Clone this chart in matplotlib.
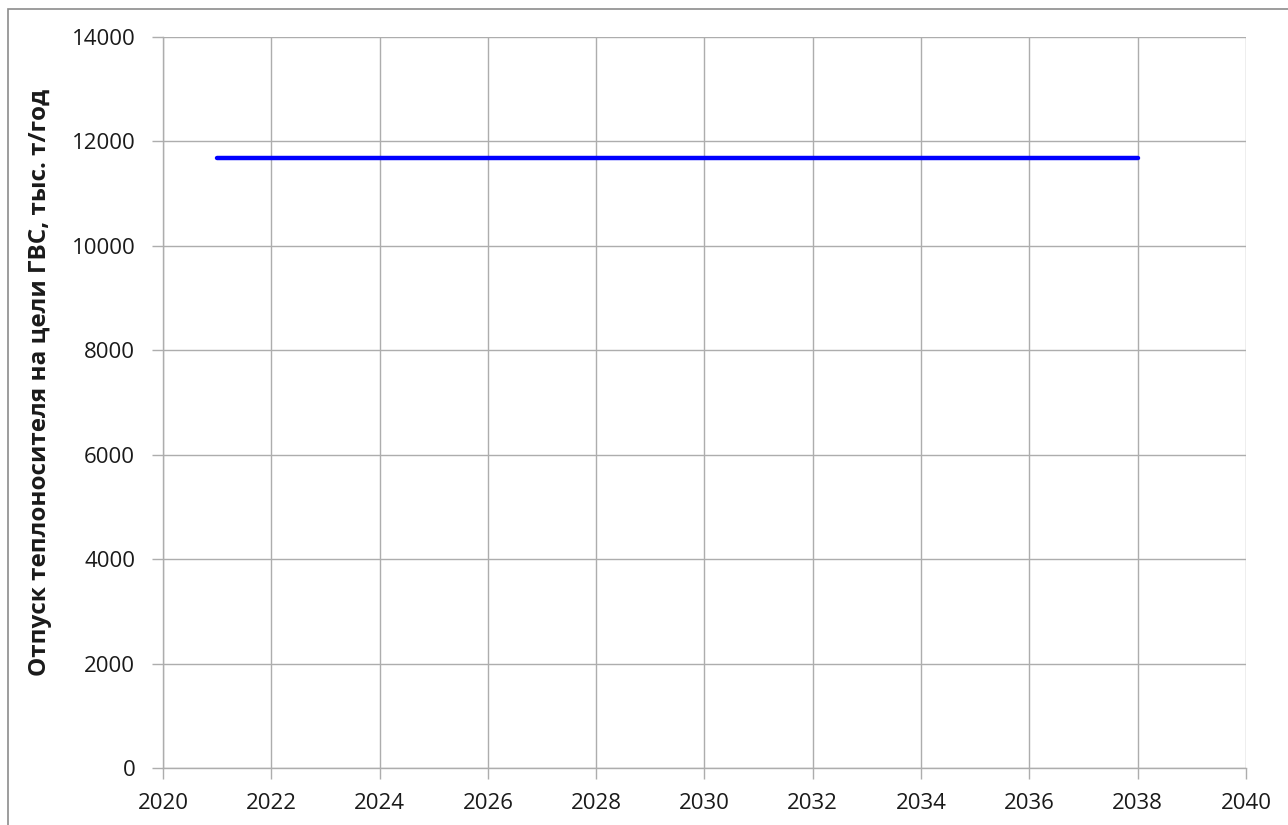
import matplotlib
matplotlib.use('Agg')
import matplotlib.pyplot as plt
from matplotlib.patches import Rectangle

# Данные: отпуск теплоносителя на цели ГВС
годы = [2021, 2022, 2023, 2024, 2025, 2026, 2027, 2028, 2029,
        2030, 2031, 2032, 2033, 2034, 2035, 2036, 2037, 2038]
отпуск = [11683, 11683, 11683, 11683, 11683, 11683, 11683, 11683, 11683,
          11683, 11683, 11683, 11683, 11683, 11683, 11683, 11683, 11683]
подпись_y = 'Отпуск теплоносителя на цели ГВС, тыс. т/год'

plt.rcParams['font.family'] = ['Open Sans', 'DejaVu Sans']

fig = plt.figure(figsize=(12.88, 8.25), dpi=100)
ax = fig.add_axes([0.12655, 0.06909, 0.84084, 0.88606])

# рамка вокруг диаграммы
fig.patches.append(Rectangle((8/1288, -0.05), 1.1, 1 - 9/825 + 0.05,
                             transform=fig.transFigure, fill=False,
                             edgecolor='#8c8c8c', linewidth=1.2))

ax.plot(годы, отпуск, color='#0000ff', linewidth=3.2, solid_capstyle='round', zorder=3)

ax.set_xlim(2020, 2040)
ax.set_ylim(0, 14000)
ax.set_xticks(range(2020, 2041, 2))
ax.set_yticks(range(0, 14001, 2000))
ax.grid(True, color='#adadad', linewidth=1.0)
ax.set_axisbelow(True)

for s in ['top', 'right']:
    ax.spines[s].set_visible(False)
for s in ['left', 'bottom']:
    ax.spines[s].set_color('#adadad')
    ax.spines[s].set_linewidth(1.0)

ax.tick_params(axis='both', direction='out', length=8, width=1.0, color='#adadad',
               labelsize=16, labelcolor='#1a1a1a')
ax.tick_params(axis='x', pad=10)
ax.tick_params(axis='y', pad=12)

ax.set_ylabel(подпись_y, fontsize=17.5, fontweight='bold', color='#1a1a1a', va='center')
ax.yaxis.set_label_coords(-0.1136, 0.528)

fig.savefig('out.png', dpi=100)
